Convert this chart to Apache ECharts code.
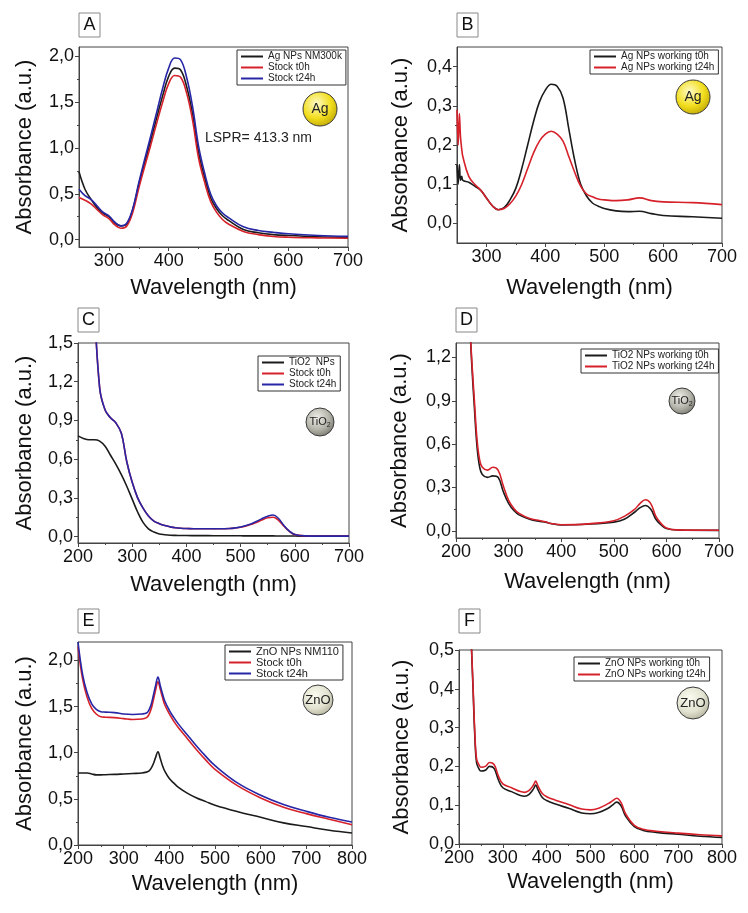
<!DOCTYPE html>
<html>
<head>
<meta charset="utf-8">
<title>UV-Vis absorbance spectra</title>
<script src="https://cdn.jsdelivr.net/npm/echarts@6.0.0/dist/echarts.min.js"></script>
<style>
html,body{margin:0;padding:0;background:#fff;}
#chart{width:748px;height:913px;}
</style>
</head>
<body>
<div id="chart"></div>
<script>
// ---- A : Ag stock ----
var wlA = [250,260,270,280,290,300,310,320,330,340,350,360,370,380,390,400,410,420,430,440,450,460,470,480,490,500,525,550,575,600,650,700];
var agNM300k = [0.74,0.55,0.44,0.35,0.29,0.25,0.18,0.15,0.17,0.33,0.60,0.84,1.08,1.33,1.57,1.78,1.87,1.85,1.67,1.37,0.95,0.68,0.46,0.34,0.26,0.21,0.11,0.075,0.055,0.045,0.032,0.025];
var agStockT0 = [0.46,0.43,0.39,0.33,0.27,0.23,0.16,0.125,0.15,0.30,0.56,0.80,1.03,1.27,1.50,1.70,1.79,1.77,1.60,1.30,0.89,0.63,0.42,0.30,0.22,0.17,0.09,0.055,0.035,0.027,0.02,0.015];
var agStockT24 = [0.55,0.48,0.44,0.37,0.30,0.26,0.19,0.15,0.18,0.34,0.62,0.88,1.13,1.39,1.65,1.87,1.98,1.96,1.77,1.45,1.02,0.73,0.50,0.37,0.29,0.24,0.14,0.10,0.08,0.064,0.045,0.036];

// ---- B : Ag working ----
var wlB = [250,252,254,256,258,260,270,280,290,300,310,320,330,340,350,360,370,380,390,400,410,420,430,440,450,460,470,480,490,500,520,540,560,580,600,650,700];
var agWorkT0 = [0.15,0.10,0.15,0.11,0.12,0.11,0.105,0.095,0.085,0.065,0.045,0.035,0.04,0.06,0.09,0.14,0.20,0.26,0.31,0.34,0.355,0.35,0.32,0.24,0.16,0.10,0.07,0.052,0.044,0.038,0.032,0.03,0.031,0.025,0.02,0.017,0.013];
var agWorkT24 = [0.29,0.20,0.28,0.22,0.19,0.17,0.12,0.10,0.085,0.065,0.045,0.035,0.038,0.05,0.07,0.10,0.14,0.18,0.21,0.228,0.235,0.228,0.21,0.17,0.13,0.095,0.075,0.068,0.062,0.06,0.058,0.06,0.065,0.058,0.055,0.053,0.048];

// ---- C : TiO2 stock ----
var wlC = [200,210,220,230,240,250,260,270,280,290,300,310,320,330,340,350,360,370,380,390,400,420,440,460,480,490,500,510,520,530,540,550,560,570,580,590,600,620,650,700];
var tio2Nps = [0.78,0.76,0.75,0.75,0.74,0.70,0.63,0.56,0.48,0.39,0.29,0.19,0.11,0.06,0.035,0.02,0.014,0.01,0.009,0.008,0.008,0.007,0.007,0.006,0.006,0.006,0.006,0.005,0.005,0.005,0.005,0.005,0.005,0.004,0.004,0.004,0.004,0.003,0.003,0.003];
var tio2StockT0 = [null,null,null,1.85,1.15,0.98,0.92,0.88,0.80,0.58,0.42,0.30,0.22,0.16,0.12,0.10,0.085,0.075,0.068,0.064,0.062,0.06,0.06,0.06,0.062,0.066,0.072,0.082,0.095,0.11,0.13,0.145,0.15,0.125,0.08,0.04,0.015,0.005,0.003,0.003];
var tio2StockT24 = [null,null,null,1.85,1.15,0.98,0.92,0.88,0.80,0.58,0.42,0.30,0.22,0.16,0.12,0.10,0.085,0.075,0.068,0.064,0.062,0.06,0.06,0.06,0.062,0.067,0.074,0.086,0.10,0.118,0.14,0.158,0.167,0.14,0.085,0.042,0.016,0.005,0.003,0.003];

// ---- D : TiO2 working ----
var wlD = [226,230,235,240,245,250,260,270,280,290,300,310,320,340,360,370,380,400,450,500,520,540,550,560,570,580,590,600,620,700];
var tio2WorkT0 = [1.45,1.15,0.85,0.58,0.44,0.39,0.37,0.38,0.37,0.27,0.19,0.14,0.11,0.08,0.065,0.06,0.05,0.04,0.045,0.06,0.08,0.13,0.16,0.175,0.15,0.08,0.04,0.015,0.005,0.003];
var tio2WorkT24 = [1.45,1.18,0.90,0.63,0.49,0.44,0.42,0.44,0.42,0.31,0.21,0.155,0.12,0.085,0.07,0.062,0.05,0.042,0.048,0.07,0.10,0.15,0.19,0.215,0.19,0.10,0.05,0.02,0.006,0.004];

// ---- E : ZnO stock ----
var wlE = [200,210,220,230,240,250,260,280,300,320,340,350,355,360,365,370,375,380,385,390,400,410,420,440,460,480,500,550,600,650,700,750,800];
var znoNM110 = [0.78,0.78,0.78,0.77,0.76,0.76,0.762,0.765,0.77,0.775,0.78,0.79,0.80,0.83,0.88,0.95,1.01,0.94,0.86,0.80,0.72,0.67,0.625,0.56,0.51,0.47,0.43,0.36,0.30,0.24,0.20,0.16,0.13];
var znoStockT0 = [2.15,1.80,1.60,1.48,1.42,1.39,1.385,1.38,1.37,1.36,1.365,1.38,1.41,1.47,1.57,1.68,1.77,1.69,1.60,1.52,1.42,1.34,1.27,1.15,1.03,0.92,0.82,0.64,0.51,0.41,0.34,0.28,0.22];
var znoStockT24 = [2.2,1.85,1.65,1.53,1.47,1.445,1.44,1.435,1.42,1.415,1.42,1.43,1.46,1.52,1.62,1.73,1.82,1.73,1.64,1.56,1.46,1.38,1.31,1.19,1.07,0.96,0.86,0.67,0.54,0.44,0.365,0.30,0.25];

// ---- F : ZnO working ----
var wlF = [228,232,236,240,245,250,260,270,280,290,300,320,340,350,360,370,375,380,390,400,420,450,480,500,520,540,550,560,570,580,600,620,650,700,750,800];
var znoWorkT0 = [0.52,0.40,0.28,0.21,0.195,0.188,0.19,0.20,0.195,0.165,0.145,0.135,0.125,0.123,0.128,0.142,0.152,0.14,0.12,0.112,0.103,0.092,0.08,0.078,0.082,0.092,0.100,0.108,0.098,0.072,0.045,0.035,0.03,0.025,0.02,0.017];
var znoWorkT24 = [0.52,0.41,0.29,0.22,0.205,0.198,0.20,0.21,0.205,0.175,0.155,0.145,0.135,0.133,0.138,0.152,0.162,0.15,0.13,0.122,0.113,0.102,0.09,0.088,0.093,0.104,0.111,0.118,0.106,0.078,0.048,0.038,0.033,0.028,0.024,0.021];

// tick values
var xTicks250 = [300,400,500,600,700], xMinor250 = [350,450,550,650];
var xTicks700 = [200,300,400,500,600,700], xMinor700 = [250,350,450,550,650];
var xTicks800 = [200,300,400,500,600,700,800], xMinor800 = [250,350,450,550,650,750];

var FONT = '"Liberation Sans", Arial, sans-serif';
var BLACK = '#1b1b1b', RED = '#d6212b', BLUE = '#2626a6';

function pairs(xs, ys){
	var out = [];
	for (var i = 0; i < xs.length; i++) out.push([xs[i], ys[i]]);
	return out;
}
function comma(v){ return v.toFixed(1).replace('.', ','); }

var panels = [
	{letter:'A', grid:{left:79,top:47,width:269,height:200}, x:[250,700], xMajor:xTicks250, xMinor:xMinor250,
	 y:[-0.08,2.1], yMajor:[0,0.5,1,1.5,2], yMinor:[0.25,0.75,1.25,1.75], yGap:43, xGap:30,
	 legend:{left:237,top:50,font:10},
	 lines:[['Ag NPs NM300k',wlA,agNM300k,BLACK],['Stock t0h',wlA,agStockT0,RED],['Stock t24h',wlA,agStockT24,BLUE]]},
	{letter:'B', grid:{left:457,top:47,width:265,height:196}, x:[250,700], xMajor:xTicks250, xMinor:xMinor250,
	 y:[-0.05,0.45], yMajor:[0,0.1,0.2,0.3,0.4], yMinor:[0.05,0.15,0.25,0.35], yGap:45, xGap:34,
	 legend:{left:590,top:50,font:10},
	 lines:[['Ag NPs working t0h',wlB,agWorkT0,BLACK],['Ag NPs working t24h',wlB,agWorkT24,RED]]},
	{letter:'C', grid:{left:78,top:343,width:271,height:200}, x:[200,700], xMajor:xTicks700, xMinor:xMinor700,
	 y:[-0.05,1.5], yMajor:[0,0.3,0.6,0.9,1.2,1.5], yMinor:[0.15,0.45,0.75,1.05,1.35], yGap:42, xGap:31,
	 legend:{left:258,top:356,font:10},
	 lines:[['TiO2  NPs',wlC,tio2Nps,BLACK],['Stock t0h',wlC,tio2StockT0,RED],['Stock t24h',wlC,tio2StockT24,BLUE]]},
	{letter:'D', grid:{left:456,top:343,width:263,height:195}, x:[200,700], xMajor:xTicks700, xMinor:xMinor700,
	 y:[-0.05,1.3], yMajor:[0,0.3,0.6,0.9,1.2], yMinor:[0.15,0.45,0.75,1.05], yGap:45, xGap:33,
	 legend:{left:581,top:349,font:10},
	 lines:[['TiO2 NPs working t0h',wlD,tio2WorkT0,BLACK],['TiO2 NPs working t24h',wlD,tio2WorkT24,RED]]},
	{letter:'E', grid:{left:78,top:642,width:274,height:203}, x:[200,800], xMajor:xTicks800, xMinor:xMinor800,
	 y:[0,2.2], yMajor:[0,0.5,1,1.5,2], yMinor:[0.25,0.75,1.25,1.75], yGap:42, xGap:28,
	 legend:{left:225,top:645,font:11},
	 lines:[['ZnO NPs NM110',wlE,znoNM110,BLACK],['Stock t0h',wlE,znoStockT0,RED],['Stock t24h',wlE,znoStockT24,BLUE]]},
	{letter:'F', grid:{left:459,top:650,width:263,height:194}, x:[200,800], xMajor:xTicks800, xMinor:xMinor800,
	 y:[0,0.5], yMajor:[0,0.1,0.2,0.3,0.4,0.5], yMinor:[0.05,0.15,0.25,0.35,0.45], yGap:46, xGap:27,
	 legend:{left:574,top:657,font:10},
	 lines:[['ZnO NPs working t0h',wlF,znoWorkT0,BLACK],['ZnO NPs working t24h',wlF,znoWorkT24,RED]]}
];

// little particle badges in the corners
var badges = [
	{x:320,y:109,r:17,text:'Ag',kind:'ag'},
	{x:693,y:97,r:17,text:'Ag',kind:'ag'},
	{x:320,y:422,r:14,text:'TiO2',kind:'tio'},
	{x:682,y:401,r:13,text:'TiO2',kind:'tio'},
	{x:318,y:700,r:15,text:'ZnO',kind:'zno'},
	{x:693,y:703,r:16,text:'ZnO',kind:'zno'}
];
var badgeColors = {
	ag:['#fffbc8','#f2de1e','#b59c00'],
	tio:['#f0f0ea','#b4b4aa','#6e6e66'],
	zno:['#fbfbf0','#e4e4d2','#a9a994']
};

var myChart = echarts.init(document.getElementById('chart'), null, {renderer:'canvas'});
var option = {backgroundColor:'#fff', animation:false, grid:[], xAxis:[], yAxis:[], legend:[], series:[], graphic:[]};

panels.forEach(function(p, i){
	option.grid.push(Object.assign({show:true, borderColor:'#444', borderWidth:1, backgroundColor:'transparent'}, p.grid));

	// main axes + an unlabeled twin carrying the minor ticks
	option.xAxis.push({
		gridIndex:i, type:'value', position:'bottom', min:p.x[0], max:p.x[1],
		name:'Wavelength (nm)', nameLocation:'middle', nameGap:p.xGap,
		nameTextStyle:{fontSize:22, color:'#111', fontFamily:FONT},
		axisLine:{show:true, onZero:false, lineStyle:{color:'#444'}},
		axisTick:{show:true, length:4, customValues:p.xMajor, lineStyle:{color:'#444'}},
		axisLabel:{customValues:p.xMajor, fontSize:18, color:'#111', margin:5, fontFamily:FONT},
		splitLine:{show:false}
	});
	option.xAxis.push({
		gridIndex:i, type:'value', position:'bottom', min:p.x[0], max:p.x[1],
		axisLine:{show:false, onZero:false},
		axisTick:{show:true, length:2, customValues:p.xMinor, lineStyle:{color:'#444'}},
		axisLabel:{show:false}, splitLine:{show:false}
	});
	option.yAxis.push({
		gridIndex:i, type:'value', position:'left', min:p.y[0], max:p.y[1],
		name:'Absorbance (a.u.)', nameLocation:'middle', nameGap:p.yGap,
		nameTextStyle:{fontSize:22, color:'#111', fontFamily:FONT},
		axisLine:{show:true, onZero:false, lineStyle:{color:'#444'}},
		axisTick:{show:true, length:4, customValues:p.yMajor, lineStyle:{color:'#444'}},
		axisLabel:{customValues:p.yMajor, fontSize:18, color:'#111', margin:5, fontFamily:FONT, formatter:comma},
		splitLine:{show:false}
	});
	option.yAxis.push({
		gridIndex:i, type:'value', position:'left', min:p.y[0], max:p.y[1],
		axisLine:{show:false, onZero:false},
		axisTick:{show:true, length:2, customValues:p.yMinor, lineStyle:{color:'#444'}},
		axisLabel:{show:false}, splitLine:{show:false}
	});

	var names = [];
	p.lines.forEach(function(l){
		names.push(l[0]);
		option.series.push({
			name:l[0], type:'line', xAxisIndex:2*i, yAxisIndex:2*i,
			data:pairs(l[1], l[2]), symbol:'none', showSymbol:false, smooth:0.4,
			clip:true, connectNulls:false,
			lineStyle:{color:l[3], width:1.6}, itemStyle:{color:l[3]}
		});
	});

	option.legend.push({
		left:p.legend.left, top:p.legend.top, orient:'vertical', data:names,
		selectedMode:false, borderColor:'#333', borderWidth:1, borderRadius:0,
		backgroundColor:'#fff', padding:[1,4,1,4], itemGap:0, itemWidth:22, itemHeight:2, icon:'rect',
		textStyle:{fontSize:p.legend.font, color:'#222', fontFamily:FONT, lineHeight:11}
	});

	// panel letter
	var ly = (i < 2 ? 13 : (i < 4 ? 308 : 609));
	option.graphic.push({type:'rect', shape:{x:p.grid.left, y:ly, width:21, height:24},
		style:{fill:'#fff', stroke:'#888', lineWidth:1}});
	option.graphic.push({type:'text', x:p.grid.left+10.5, y:ly+12,
		style:{text:p.letter, font:'18px '+FONT, fill:'#111', textAlign:'center', textVerticalAlign:'middle'}});
});

badges.forEach(function(b){
	var c = badgeColors[b.kind];
	option.graphic.push({type:'circle', shape:{cx:b.x, cy:b.y, r:b.r},
		style:{fill:new echarts.graphic.RadialGradient(0.4,0.35,0.75,[
			{offset:0,color:c[0]},{offset:0.55,color:c[1]},{offset:1,color:c[2]}]),
			stroke:'#3a3a3a', lineWidth:1}});
	if (b.kind === 'tio') {
		option.graphic.push({type:'text', x:b.x, y:b.y,
			style:{text:'{a|TiO}{b|2}', textAlign:'center', textVerticalAlign:'middle',
				rich:{a:{fontSize:11, fontFamily:FONT, fill:'#222'}, b:{fontSize:7, fontFamily:FONT, fill:'#222', padding:[6,0,0,0]}}}});
	} else {
		option.graphic.push({type:'text', x:b.x, y:b.y,
			style:{text:b.text, font:(b.kind==='ag'?'14px ':'13px ')+FONT, fill:'#222', textAlign:'center', textVerticalAlign:'middle'}});
	}
});

option.graphic.push({type:'text', x:205, y:138,
	style:{text:'LSPR= 413.3 nm', font:'14px '+FONT, fill:'#222', textVerticalAlign:'middle'}});

myChart.setOption(option);
</script>
</body>
</html>
